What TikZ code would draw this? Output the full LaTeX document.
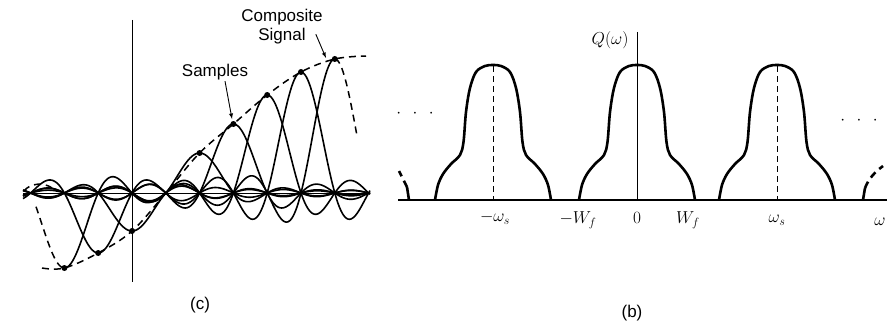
\documentclass[tikz,border=0pt]{standalone}
\usepackage{fontspec}
\setsansfont{Liberation Sans}
\usetikzlibrary{arrows.meta,positioning}

\begin{document}
\begin{tikzpicture}[x=1pt,y=-1pt,>=latex,
  declare function={snc(\u)=sin(180*(\u))/(pi*(\u));},
  lobe/.style={line width=1.6pt},
  bump/.style={line width=2.6pt,line join=round},
  dsh/.style={line width=1.5pt,dash pattern=on 7pt off 5pt},
  smp/.style={circle,fill,inner sep=0pt,minimum size=6pt},
  lbl/.style={font=\sffamily\fontsize{17}{19}\selectfont,inner sep=1pt},
  mlbl/.style={font=\fontsize{17}{19}\selectfont,inner sep=1pt}]
\useasboundingbox (0,0) rectangle (893,329);

% (c) samples and sinc pulses
\draw[line width=0.9pt] (132,20) -- (132,282);
\draw[line width=0.9pt] (23,193) -- (370,193);
\foreach \k/\a in {-1/-60,0/-38,2/40,3/69,4/98,5/121}
  \draw[lobe] plot[domain=23:370,samples=240]
    (\x,{193-\a*snc((\x-132-33.8*\k)/33.8+0.00013)});
\draw[lobe] plot[domain=64.4:370,samples=200] (\x,{193+75*snc((\x-64.4)/33.8+0.00013)});
\draw[dsh] plot[domain=36:64.4,samples=30] (\x,{193+75*snc((\x-64.4)/33.8+0.00013)});
\draw[dsh] (24,191) .. controls (30,183) and (44,182) .. (52,188);
\draw[lobe] plot[domain=23:334.8,samples=240] (\x,{193-134*snc((\x-334.8)/33.8+0.00013)});
\draw[dsh] plot[domain=334.8:357,samples=20] (\x,{193-134*snc((\x-334.8)/33.8+0.00013)});
% composite signal
\draw[dsh] plot[smooth,tension=0.6] coordinates {(42,268) (64.4,268) (98.2,253) (132,231)
  (165.8,193) (199.6,153) (233.4,124) (267.2,95) (301,72) (334.8,59) (366,56)};
\foreach \i/\k/\a in {1/-2/-75,2/-1/-60,3/0/-38,4/2/40,5/3/69,6/4/98,7/5/121,8/6/134}
  \node[smp] (s\i) at ({132+33.8*\k},{193-\a}) {};

\node[lbl] (samples) at (215,72) {Samples};
\node[lbl] (composite) at (282,17) {Composite};
\node[lbl,below=1pt of composite] (signal) {Signal};
\coordinate (sTip) at (232,119);
\coordinate (cTip) at (326,58);
\draw[->,line width=0.9pt] ([xshift=10pt]samples.south) -- (sTip);
\draw[->,line width=0.9pt] ([xshift=9pt,yshift=2pt]signal.east) -- (cTip);
\node[lbl] (lc) at (200,305) {(c)};

% (b) spectrum Q(w)
\draw[line width=1.3pt] (398,200) -- (887,200);
\draw[line width=0.8pt] (637,32) -- (637,200);
\foreach \c in {493,637,777}
  \draw[bump,shift={(\c,200)}] plot[smooth,tension=0.55] coordinates {(-58,0) (-55,-15) (-50,-26)
    (-42,-36) (-33,-45) (-29.5,-58) (-27,-88) (-23,-112) (-17,-128) (-8,-134) (0,-135)
    (8,-134) (17,-128) (23,-112) (27,-88) (29.5,-58) (33,-45) (42,-36) (50,-26) (55,-15) (58,0)};
\draw[line width=1pt,dash pattern=on 6pt off 4pt] (493,66) -- (493,200);
\draw[line width=1pt,dash pattern=on 6pt off 4pt] (777,66) -- (777,200);
\draw[bump] (409,200) -- (407,187);
\draw[bump,dash pattern=on 7pt off 5pt] (407,187) -- (399,171);
\draw[bump] (863,200) -- (865,188);
\draw[bump,dash pattern=on 7pt off 5pt] (865,188) .. controls (869,178) and (875,172) .. (883,166);

\node[mlbl] (q) at (610,40) {$Q(\omega)$};
\node[mlbl] (dl) at (415,114) {$\cdot\;\,\cdot\;\,\cdot$};
\node[mlbl] (dr) at (859,121) {$\cdot\;\,\cdot\;\,\cdot$};
\node[mlbl] (tm) at (495,218) {$-\omega_s$};
\node[mlbl] (tw) at (578,220) {$-W_f$};
\node[mlbl] (t0) at (637,218) {$0$};
\node[mlbl] (tp) at (688,220) {$W_f$};
\node[mlbl] (ts) at (777,220) {$\omega_s$};
\node[mlbl] (tw2) at (880,222) {$\omega$};
\node[lbl] (lb) at (632,313) {(b)};
\end{tikzpicture}
\end{document}
